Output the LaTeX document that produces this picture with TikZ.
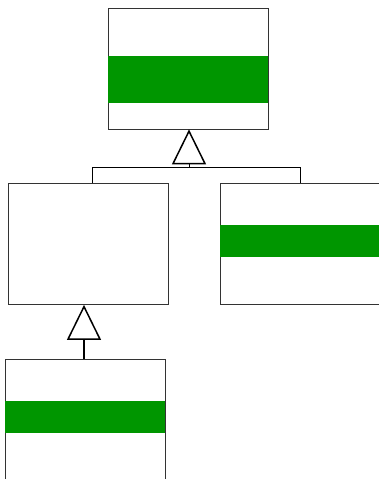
\documentclass[tikz,border=0pt]{standalone}
\usepackage{xcolor}
\usepackage{tikz}
\usetikzlibrary{arrows.meta}

\definecolor{bandgreen}{RGB}{0,150,0}

\begin{document}
\begin{tikzpicture}[
  x=1pt, y=-1pt,
  cls/.style={
      draw=black!80,
      fill=white,
      line width=0.8pt,
      minimum width=160pt,
      minimum height=121pt,
      inner sep=0pt
  },
  band/.style={fill=bandgreen},
  gen/.style={-{Triangle[open, length=35pt, width=34pt, line width=1.5pt]}, line width=0.8pt}
]

\useasboundingbox (0,0) rectangle (379,479);
\clip (0,0) rectangle (379,479);

\node[cls] (base)   at (188,68.5)  {};
\node[cls] (left)   at (88,244)    {};
\node[cls] (right)  at (300,244)   {};
\node[cls] (leaf)   at (85,419.5)  {};

% green compartments
\fill[band] ([yshift=-48pt]base.north west)  rectangle ([yshift=-95pt]base.north east);
\fill[band] ([yshift=-42pt]right.north west) rectangle ([yshift=-74pt]right.north east);
\fill[band] ([yshift=-42pt]leaf.north west)  rectangle ([yshift=-74pt]leaf.north east);

\coordinate (joint) at (189,167);
\coordinate (stem)  at (84,359);

\draw[line width=0.8pt] ([xshift=4pt]left.north) |- (joint);
\draw[line width=0.8pt] (right.north) |- (joint);
\draw[gen] (joint) -- (joint |- base.south);
\draw[gen, line width=1.8pt] (stem) -- (stem |- left.south);

\end{tikzpicture}
\end{document}
